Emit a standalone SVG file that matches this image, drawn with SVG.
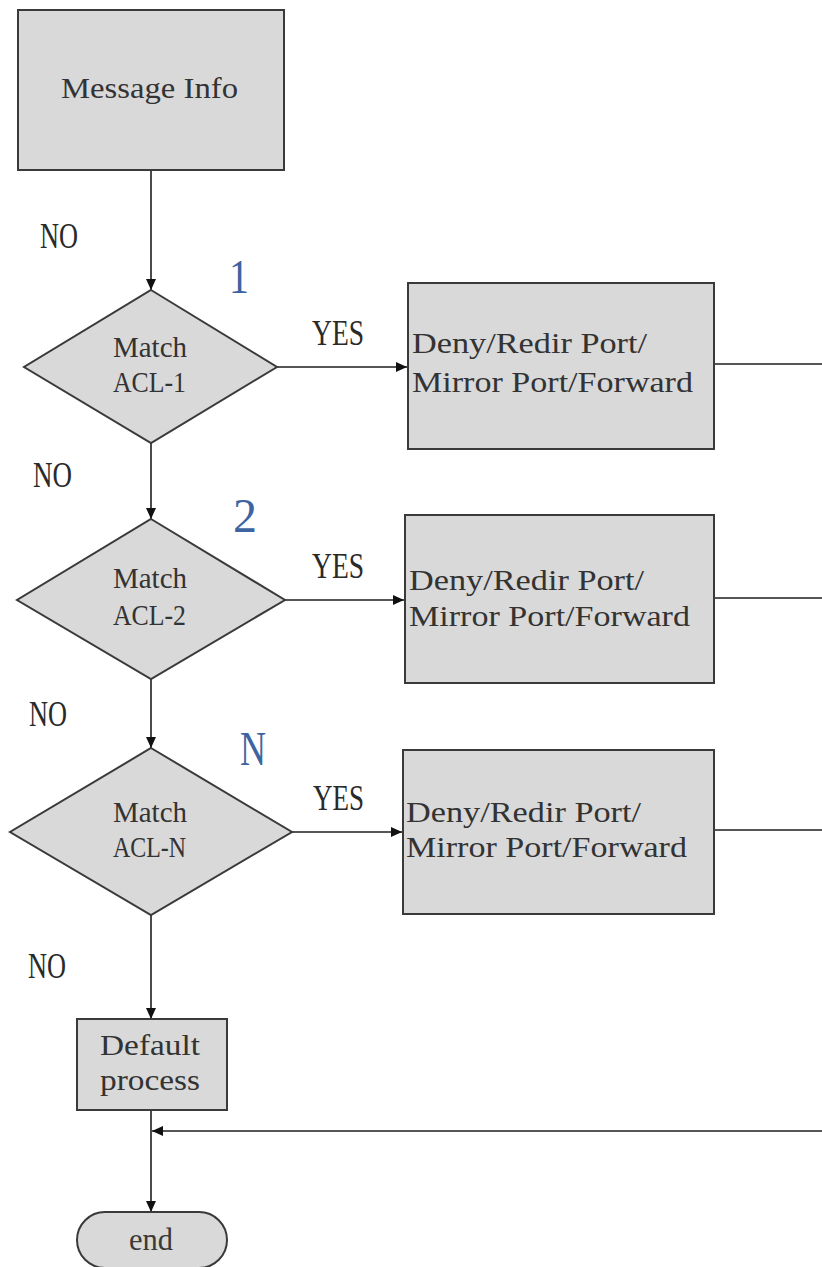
<svg xmlns="http://www.w3.org/2000/svg" width="822" height="1267" viewBox="0 0 822 1267">
  <style>
    .shape { fill: #d9d9d9; stroke: #3a3a3a; stroke-width: 2; }
    .mono { font-family: "Liberation Serif", "DejaVu Serif", serif; font-size: 29px; fill: #333333; }
    .label { font-family: "Liberation Serif", "DejaVu Serif", serif; font-size: 36px; fill: #2a2a2a; }
    .num { font-family: "Liberation Serif", "DejaVu Serif", serif; font-size: 48px; fill: #3d64a0; }
    .wire { fill: none; stroke: #1e1e1e; stroke-width: 1.6; }
  </style>
  <defs>
    <marker id="arrow" markerUnits="userSpaceOnUse" markerWidth="12" markerHeight="10" refX="11" refY="5" orient="auto">
      <path d="M0,0 L11,5 L0,10 Z" fill="#111"/>
    </marker>
  </defs>
  <rect width="822" height="1267" fill="#ffffff"/>

  <!-- connectors -->
  <g id="connectors">
    <line class="wire" x1="151" y1="170" x2="151" y2="290" marker-end="url(#arrow)"/>
    <line class="wire" x1="277" y1="367" x2="407" y2="367" marker-end="url(#arrow)"/>
    <line class="wire" x1="714" y1="364" x2="822" y2="364"/>
    <line class="wire" x1="151" y1="443" x2="151" y2="519" marker-end="url(#arrow)"/>
    <line class="wire" x1="285" y1="600" x2="404" y2="600" marker-end="url(#arrow)"/>
    <line class="wire" x1="714" y1="598" x2="822" y2="598"/>
    <line class="wire" x1="151" y1="679" x2="151" y2="748" marker-end="url(#arrow)"/>
    <line class="wire" x1="292" y1="832" x2="402" y2="832" marker-end="url(#arrow)"/>
    <line class="wire" x1="714" y1="830" x2="822" y2="830"/>
    <line class="wire" x1="151" y1="915" x2="151" y2="1019" marker-end="url(#arrow)"/>
    <line class="wire" x1="151" y1="1110" x2="151" y2="1212" marker-end="url(#arrow)"/>
    <line class="wire" x1="822" y1="1131" x2="152" y2="1131" marker-end="url(#arrow)"/>

    <text class="label" x="40" y="248" textLength="38" lengthAdjust="spacingAndGlyphs">NO</text>
    <text class="label" x="33" y="487" textLength="39" lengthAdjust="spacingAndGlyphs">NO</text>
    <text class="label" x="29" y="726" textLength="38" lengthAdjust="spacingAndGlyphs">NO</text>
    <text class="label" x="28" y="978" textLength="38" lengthAdjust="spacingAndGlyphs">NO</text>

    <text class="label" x="312" y="345" textLength="52" lengthAdjust="spacingAndGlyphs">YES</text>
    <text class="label" x="312" y="578" textLength="52" lengthAdjust="spacingAndGlyphs">YES</text>
    <text class="label" x="313" y="810" textLength="51" lengthAdjust="spacingAndGlyphs">YES</text>

    <text class="num" x="229" y="293" textLength="20" lengthAdjust="spacingAndGlyphs">1</text>
    <text class="num" x="233" y="532" textLength="24" lengthAdjust="spacingAndGlyphs">2</text>
    <text class="num" x="240" y="765" textLength="26" lengthAdjust="spacingAndGlyphs">N</text>
  </g>

  <!-- start node -->
  <g id="message-info">
    <rect class="shape" x="18" y="10" width="266" height="160"/>
    <text class="mono" x="61" y="98" textLength="177" lengthAdjust="spacingAndGlyphs">Message Info</text>
  </g>

  <!-- decision 1 -->
  <g id="match-acl-1">
    <polygon class="shape" points="151,290 277,367 151,443 24,367"/>
    <text class="mono" x="113" y="357" textLength="74" lengthAdjust="spacingAndGlyphs">Match</text>
    <text class="mono" x="113" y="392" textLength="73" lengthAdjust="spacingAndGlyphs">ACL-1</text>
  </g>

  <g id="action-1">
    <rect class="shape" x="408" y="283" width="306" height="166"/>
    <text class="mono" x="412" y="353" textLength="235" lengthAdjust="spacingAndGlyphs">Deny/Redir Port/</text>
    <text class="mono" x="412" y="392" textLength="281" lengthAdjust="spacingAndGlyphs">Mirror Port/Forward</text>
  </g>

  <!-- decision 2 -->
  <g id="match-acl-2">
    <polygon class="shape" points="151,519 285,600 151,679 17,600"/>
    <text class="mono" x="113" y="588" textLength="74" lengthAdjust="spacingAndGlyphs">Match</text>
    <text class="mono" x="113" y="625" textLength="73" lengthAdjust="spacingAndGlyphs">ACL-2</text>
  </g>

  <g id="action-2">
    <rect class="shape" x="405" y="515" width="309" height="168"/>
    <text class="mono" x="409" y="590" textLength="235" lengthAdjust="spacingAndGlyphs">Deny/Redir Port/</text>
    <text class="mono" x="409" y="626" textLength="281" lengthAdjust="spacingAndGlyphs">Mirror Port/Forward</text>
  </g>

  <!-- decision N -->
  <g id="match-acl-n">
    <polygon class="shape" points="151,748 292,832 151,915 10,832"/>
    <text class="mono" x="113" y="822" textLength="74" lengthAdjust="spacingAndGlyphs">Match</text>
    <text class="mono" x="113" y="857" textLength="73" lengthAdjust="spacingAndGlyphs">ACL-N</text>
  </g>

  <g id="action-n">
    <rect class="shape" x="403" y="750" width="311" height="164"/>
    <text class="mono" x="406" y="822" textLength="235" lengthAdjust="spacingAndGlyphs">Deny/Redir Port/</text>
    <text class="mono" x="406" y="857" textLength="281" lengthAdjust="spacingAndGlyphs">Mirror Port/Forward</text>
  </g>

  <!-- fallback -->
  <g id="default-process">
    <rect class="shape" x="77" y="1019" width="150" height="91"/>
    <text class="mono" x="100" y="1055" textLength="100" lengthAdjust="spacingAndGlyphs">Default</text>
    <text class="mono" x="100" y="1090" textLength="100" lengthAdjust="spacingAndGlyphs">process</text>
  </g>

  <!-- terminator -->
  <g id="end">
    <rect class="shape" x="77" y="1212" width="150" height="56" rx="28" ry="28"/>
    <text x="129" y="1250" font-family="Liberation Serif, DejaVu Serif, serif" font-size="32" fill="#3a3a3a" textLength="44" lengthAdjust="spacingAndGlyphs">end</text>
  </g>
</svg>
